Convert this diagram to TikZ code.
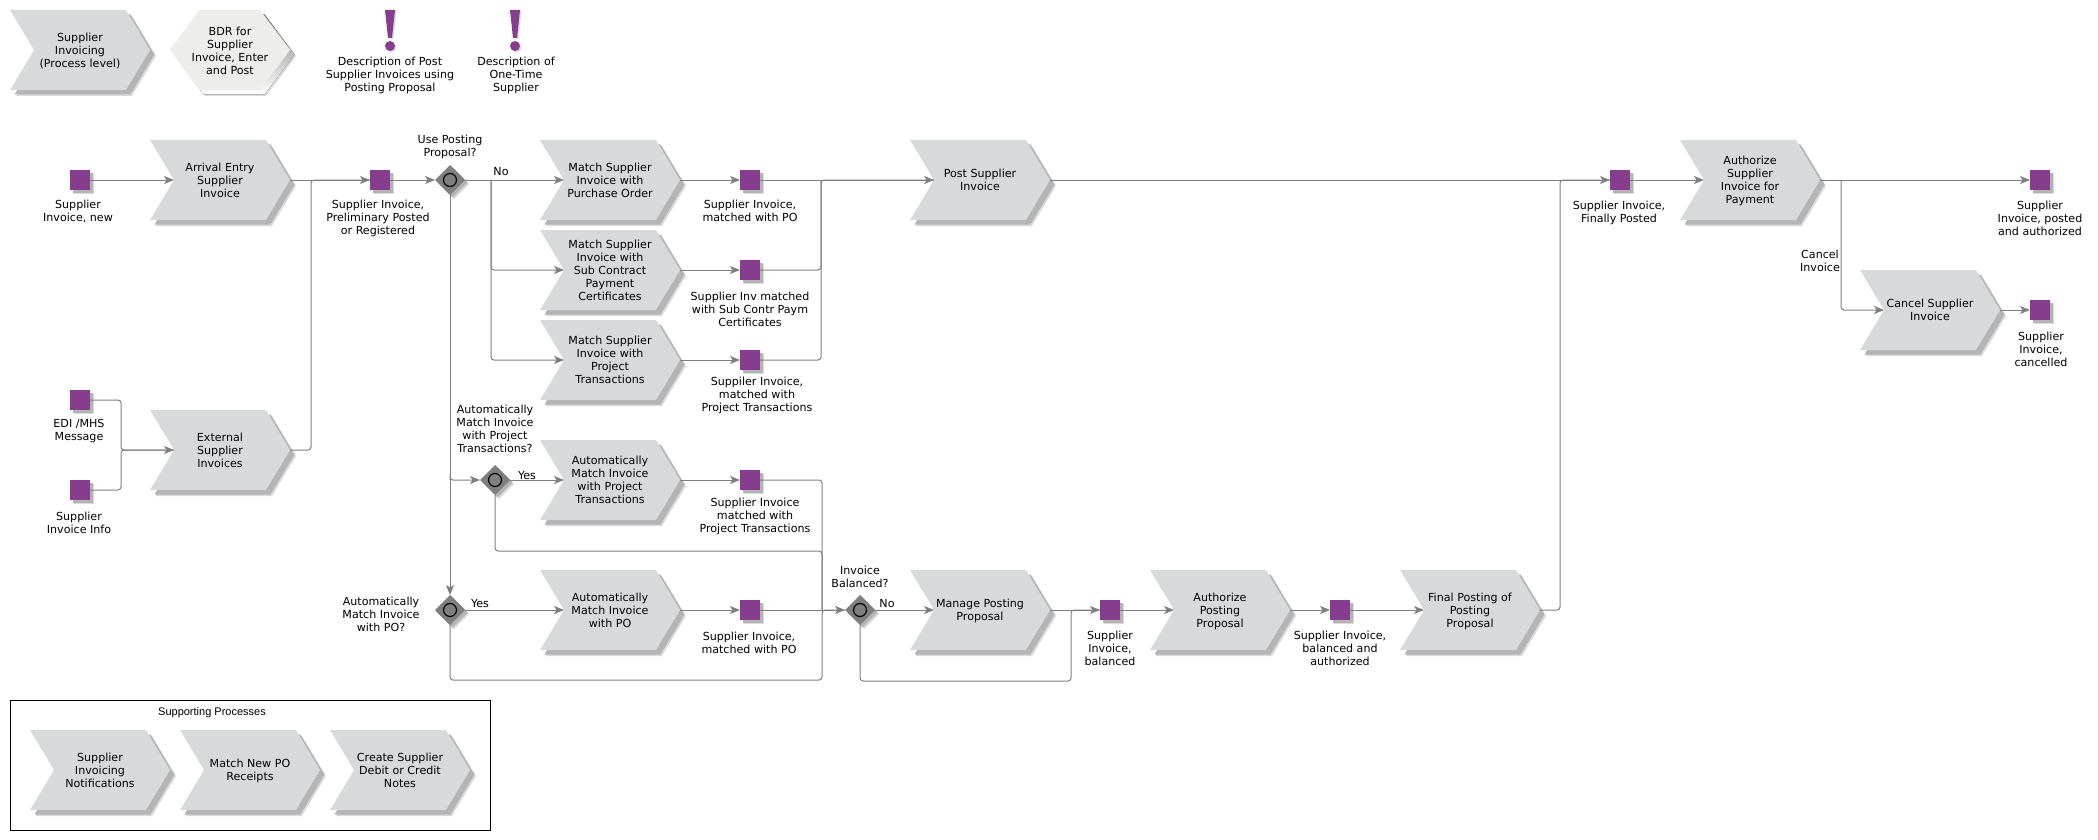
\documentclass[tikz,border=0pt]{standalone}
\usepackage{fontspec}
\setmainfont{DejaVu Sans}
\newfontfamily\supfont{Liberation Sans}
\usetikzlibrary{shapes.symbols,shapes.geometric,arrows.meta}
\definecolor{chevfill}{HTML}{D8D9DB}
\definecolor{hexfill}{HTML}{EDEDEC}
\definecolor{shade}{HTML}{B4B4B4}
\definecolor{shadeb}{HTML}{DADADA}
\definecolor{purp}{HTML}{873D8E}
\definecolor{flow}{HTML}{7F7F7F}
\tikzset{
  txt/.style={font=\fontsize{11.1}{13}\selectfont,align=center,inner sep=0pt,text=black},
  dlabel/.style={txt,yshift=-1pt},
  chev/.style={shape=signal,signal to=east,signal from=west,signal pointer angle=118,
    fill=chevfill,minimum width=140pt,minimum height=80pt,inner sep=0pt,outer sep=0pt,txt,
    text depth=0pt,
    preaction={fill=shadeb,transform canvas={shift={(6pt,-6pt)}}},
    preaction={fill=shade,transform canvas={shift={(4.5pt,-4.5pt)}}}},
  sq/.style={rectangle,fill=purp,minimum size=20pt,inner sep=0pt,outer sep=0pt,
    preaction={fill=shadeb,transform canvas={shift={(4pt,-4pt)}}},
    preaction={fill=shade,transform canvas={shift={(2.5pt,-2.5pt)}}}},
  gate/.style={diamond,fill=flow,minimum width=30pt,minimum height=30pt,inner sep=0pt,outer sep=0pt,aspect=1,
    preaction={fill=shadeb,transform canvas={shift={(4pt,-4pt)}}},
    preaction={fill=shade,transform canvas={shift={(2.5pt,-2.5pt)}}},
    path picture={\draw[black,line width=1.2pt] (path picture bounding box.center) circle (6.5pt);}},
  flowline/.style={draw=flow,line width=1pt,rounded corners=3pt},
  arr/.style={flowline,-{Stealth[length=10pt,width=8pt,inset=2.5pt,fill=flow]}},
}
\begin{document}
\begin{tikzpicture}[x=1pt,y=-1pt]
\useasboundingbox (0,0) rectangle (2098,840);
% top row
\node[chev] (top1) at (80,50) {Supplier\\Invoicing\\(Process level)};
\fill[shadeb] (176,56) -- (205,16) -- (266,16) -- (296,56) -- (266,96) -- (205,96) -- cycle;
\fill[shade] (174.5,54.5) -- (203.5,14.5) -- (264.5,14.5) -- (294.5,54.5) -- (264.5,94.5) -- (203.5,94.5) -- cycle;
\fill[hexfill] (170,50) -- (199,10) -- (260,10) -- (290,50) -- (260,90) -- (199,90) -- cycle;
\node[dlabel] (top2) at (230,50) {BDR for\\Supplier\\Invoice, Enter\\and Post};
\foreach \bx in {390,515}{
  \fill[shadeb] (\bx-3.5,11) -- (\bx+6.5,11) -- (\bx+3.5,39) -- (\bx+.5,39) -- cycle;
  \fill[shadeb] (\bx+1.5,47.5) circle (5);
  \fill[purp] (\bx-5,10) -- (\bx+5,10) -- (\bx+2,38) -- (\bx-2,38) -- cycle;
  \fill[purp] (\bx,46) circle (5);
}
\node[dlabel] (ldoc1) at (390,74) {Description of Post\\Supplier Invoices using\\Posting Proposal};
\node[dlabel] (ldoc2) at (516,74) {Description of\\One-Time\\Supplier};
% process chevrons
\node[chev] (arrival) at (220,180) {Arrival Entry\\Supplier\\Invoice};
\node[chev] (external) at (220,450) {External\\Supplier\\Invoices};
\node[chev] (mpo) at (610,180) {Match Supplier\\Invoice with\\Purchase Order};
\node[chev] (msub) at (610,270) {Match Supplier\\Invoice with\\Sub Contract\\Payment\\Certificates};
\node[chev] (mprj) at (610,360) {Match Supplier\\Invoice with\\Project\\Transactions};
\node[chev] (post) at (980,180) {Post Supplier\\Invoice};
\node[chev] (aprj) at (610,480) {Automatically\\Match Invoice\\with Project\\Transactions};
\node[chev] (apo) at (610,610) {Automatically\\Match Invoice\\with PO};
\node[chev] (manage) at (980,610) {Manage Posting\\Proposal};
\node[chev] (authp) at (1220,610) {Authorize\\Posting\\Proposal};
\node[chev] (final) at (1470,610) {Final Posting of\\Posting\\Proposal};
\node[chev] (auths) at (1750,180) {Authorize\\Supplier\\Invoice for\\Payment};
\node[chev] (cancel) at (1930,310) {Cancel Supplier\\Invoice};
% squares
\node[sq] (snew) at (80,180) {};
\node[sq] (sedi) at (80,400) {};
\node[sq] (sinfo) at (80,490) {};
\node[sq] (sprel) at (380,180) {};
\node[sq] (smpo) at (750,180) {};
\node[sq] (smsub) at (750,270) {};
\node[sq] (smprj) at (750,360) {};
\node[sq] (saprj) at (750,480) {};
\node[sq] (sapo) at (750,610) {};
\node[sq] (sbal) at (1110,610) {};
\node[sq] (sbaa) at (1340,610) {};
\node[sq] (sfin) at (1620,180) {};
\node[sq] (spa) at (2040,180) {};
\node[sq] (scan) at (2040,310) {};
% gateways
\node[gate] (g1) at (450,180) {};
\node[gate] (g2) at (495,480) {};
\node[gate] (g3) at (450,610) {};
\node[gate] (g4) at (860,610) {};
% junction coordinates
\coordinate (jprel) at (311,180);
\coordinate (jno) at (491,180);
\coordinate (jpost) at (821,180);
\coordinate (jg2) at (450,480);
\coordinate (jb2) at (822,551);
\coordinate (jg4) at (822,610);
\coordinate (jc2) at (822,680);
\coordinate (jd2) at (1071,681);
\coordinate (jd3) at (1071,610);
\coordinate (jfin) at (1560,180);
\coordinate (jcan) at (1841,180);
\coordinate (jext) at (121,450);
% connectors
\path[arr] (snew.east) -- (arrival.west);
\path[flowline] (external.east) -| (jprel) -- (sprel.west);
\path[arr] (arrival.east) -- (sprel.west);
\path[flowline] (sinfo.east) -| (jext) -- (external.west);
\path[arr] (sedi.east) -| (jext) -- (external.west);
\path[arr] (sprel.east) -- (g1.west);
\path[arr] (g1.east) -- (mpo.west);
\path[arr] (jno) |- (msub.west);
\path[arr] (jno) |- (mprj.west);
\path[arr] (mpo.east) -- (smpo.west);
\path[arr] (msub.east) -- (smsub.west);
\path[arr] (mprj.east) -- (smprj.west);
\path[flowline] (smsub.east) -| (jpost);
\path[flowline] (smprj.east) -| (jpost) -- (post.west);
\path[arr] (smpo.east) -- (post.west);
\path[arr] (post.east) -- (sfin.west);
\path[arr] (g1.south) -- (g3.north);
\path[arr] (jg2) |- (g2.west);
\path[arr] (g2.east) -- (aprj.west);
\path[arr] (aprj.east) -- (saprj.west);
\path[flowline] (saprj.east) -| (jg4);
\path[flowline] (g2.south) |- (jb2) -- (jg4);
\path[arr] (g3.east) -- (apo.west);
\path[arr] (apo.east) -- (sapo.west);
\path[flowline] (g3.south) |- (jc2) -- (jg4) -- (g4.west);
\path[arr] (sapo.east) -- (g4.west);
\path[arr] (g4.east) -- (manage.west);
\path[flowline] (g4.south) |- (jd2) -- (jd3) -- (sbal.west);
\path[arr] (manage.east) -- (sbal.west);
\path[arr] (sbal.east) -- (authp.west);
\path[arr] (authp.east) -- (sbaa.west);
\path[arr] (sbaa.east) -- (final.west);
\path[flowline] (final.east) -| (jfin) -- (sfin.west);
\path[arr] (sfin.east) -- (auths.west);
\path[arr] (auths.east) -- (spa.west);
\path[arr] (jcan) |- (cancel.west);
\path[arr] (cancel.east) -- (scan.west);
% labels
\node[dlabel] (l1) at (78,210.5) {Supplier\\Invoice, new};
\node[dlabel] (l2) at (79,430.5) {EDI /MHS\\Message};
\node[dlabel] (l3) at (79,521.5) {Supplier\\Invoice Info};
\node[dlabel] (l4) at (378,217) {Supplier Invoice,\\Preliminary Posted\\or Registered};
\node[dlabel] (l5) at (450,146) {Use Posting\\Proposal?};
\node[dlabel] (l6) at (501,171) {No};
\node[dlabel] (l7) at (750,209.5) {Supplier Invoice,\\matched with PO};
\node[dlabel] (l8) at (750,308) {Supplier Inv matched\\with Sub Contr Paym\\Certificates};
\node[dlabel] (l9) at (757,394) {Suppiler Invoice,\\matched with\\Project Transactions};
\node[dlabel] (l10) at (495,428) {Automatically\\Match Invoice\\with Project\\Transactions?};
\node[dlabel] (l11) at (527,475) {Yes};
\node[dlabel] (l12) at (755,515) {Supplier Invoice\\matched with\\Project Transactions};
\node[dlabel] (l13) at (480,603) {Yes};
\node[dlabel] (l14) at (381,613) {Automatically\\Match Invoice\\with PO?};
\node[dlabel] (l15) at (749,641.5) {Supplier Invoice,\\matched with PO};
\node[dlabel] (l16) at (860,575.5) {Invoice\\Balanced?};
\node[dlabel] (l17) at (887,603) {No};
\node[dlabel] (l18) at (1110,647) {Supplier\\Invoice,\\balanced};
\node[dlabel] (l19) at (1340,647) {Supplier Invoice,\\balanced and\\authorized};
\node[dlabel] (l20) at (1619,211.5) {Supplier Invoice,\\Finally Posted};
\node[dlabel] (l21) at (2040,217) {Supplier\\Invoice, posted\\and authorized};
\node[dlabel] (l22) at (1820,259.5) {Cancel\\Invoice};
\node[dlabel] (l23) at (2041,348) {Supplier\\Invoice,\\cancelled};
% supporting processes
\node[draw=black,line width=1pt,minimum width=480pt,minimum height=130pt,inner sep=0pt] (supbox) at (250,765) {};
\node[dlabel,font=\supfont\fontsize{11}{13}\selectfont] (suplabel) at (212,712) {Supporting Processes};
\node[chev] (sup1) at (100,770) {Supplier\\Invoicing\\Notifications};
\node[chev] (sup2) at (250,770) {Match New PO\\Receipts};
\node[chev] (sup3) at (400,770) {Create Supplier\\Debit or Credit\\Notes};
\end{tikzpicture}
\end{document}
